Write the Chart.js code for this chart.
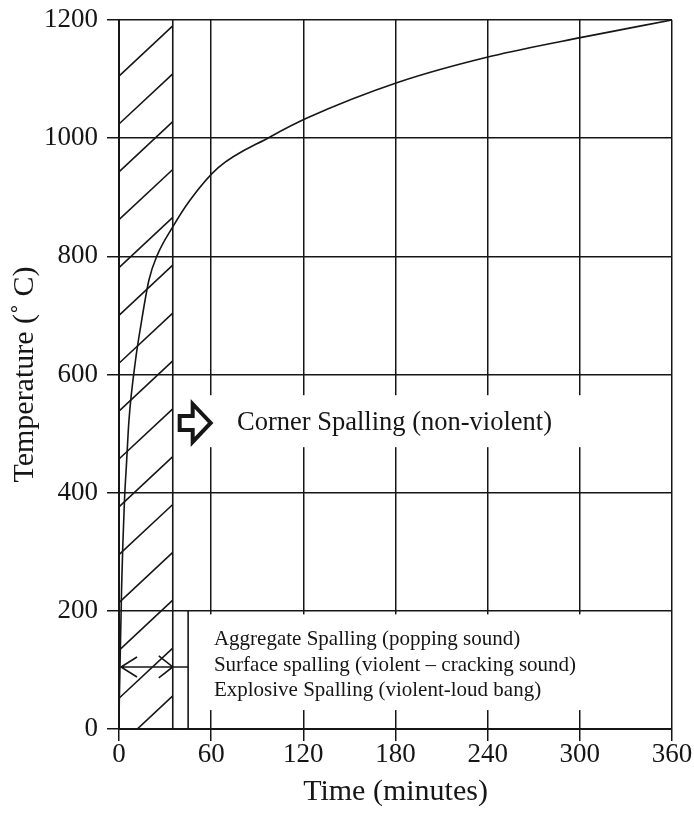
<!DOCTYPE html>
<html>
<head>
<meta charset="utf-8">
<script src="https://cdn.jsdelivr.net/npm/chart.js"></script>
<style>
  html, body { margin: 0; padding: 0; background: #fff; }
</style>
</head>
<body>
<canvas id="chart-area" width="694" height="823"></canvas>
<script>
// fire curve: time (min) vs furnace temperature (deg C)
var minutes = [0, 1.7, 3.5, 4.9, 6.5, 10.8, 14.1, 19.5, 24.9, 35, 46.2, 64.6, 98.3, 122.4, 182.3, 242.8, 302, 360];
var temps = [20, 240, 383, 450, 523, 625, 681, 760, 802, 850, 895, 950, 1002, 1034, 1095, 1139, 1171, 1200];

var timeTicks = [0, 60, 120, 180, 240, 300, 360];
var tempTicks = [0, 200, 400, 600, 800, 1000, 1200];

// spalling zones
var hatchEnd = 35;          // explosive zone ends here (min)
var spallBoxStart = 45;     // bottom note box starts (min)
var spallArrowTemp = 105;

var cornerLabel = 'Corner Spalling (non-violent)';
var spallingLabels = [
	'Aggregate Spalling (popping sound)',
	'Surface spalling (violent \u2013 cracking sound)',
	'Explosive Spalling (violent-loud bang)'
];

var serif = '"Liberation Serif", "Times New Roman", serif';
var ink = '#161616';

var notes = {
	id: 'notes',
	beforeDatasetsDraw: function (chart) {
		var ctx = chart.ctx, a = chart.chartArea;
		var x = chart.scales.x, y = chart.scales.y;
		var xe = x.getPixelForValue(hatchEnd);

		ctx.save();
		// white boxes hide the grid behind the notes
		ctx.fillStyle = '#fff';
		ctx.fillRect(x.getPixelForValue(36.5), y.getPixelForValue(565), x.getPixelForValue(311) - x.getPixelForValue(36.5), y.getPixelForValue(477) - y.getPixelForValue(565));
		ctx.fillRect(x.getPixelForValue(spallBoxStart), y.getPixelForValue(194), x.getPixelForValue(357) - x.getPixelForValue(spallBoxStart), y.getPixelForValue(32) - y.getPixelForValue(194));

		// hatching
		ctx.save();
		ctx.beginPath();
		ctx.rect(a.left, a.top, xe - a.left, a.bottom - a.top);
		ctx.clip();
		ctx.strokeStyle = ink;
		ctx.lineWidth = 1.6;
		for (var t0 = 1105; t0 > -120; t0 -= 81) {
			ctx.beginPath();
			ctx.moveTo(x.getPixelForValue(0), y.getPixelForValue(t0));
			ctx.lineTo(xe, y.getPixelForValue(t0 + 85));
			ctx.stroke();
		}
		ctx.restore();

		ctx.strokeStyle = ink;
		ctx.lineWidth = 1.6;
		ctx.beginPath();
		ctx.moveTo(xe, a.top);
		ctx.lineTo(xe, a.bottom);
		ctx.stroke();

		// left edge of the bottom note
		var xb = x.getPixelForValue(spallBoxStart);
		ctx.beginPath();
		ctx.moveTo(xb, y.getPixelForValue(200));
		ctx.lineTo(xb, a.bottom);
		ctx.stroke();

		// double arrow across the explosive zone
		var ya = y.getPixelForValue(spallArrowTemp);
		var x0 = x.getPixelForValue(0) + 2;
		ctx.beginPath();
		ctx.moveTo(x0, ya);
		ctx.lineTo(xb, ya);
		ctx.moveTo(x0 + 16, ya - 10);
		ctx.lineTo(x0, ya);
		ctx.lineTo(x0 + 16, ya + 10);
		ctx.moveTo(xe - 14, ya - 11);
		ctx.lineTo(xe, ya);
		ctx.lineTo(xe - 14, ya + 11);
		ctx.stroke();

		// hollow block arrow
		var ax = x.getPixelForValue(39.5), ay = y.getPixelForValue(518);
		ctx.beginPath();
		ctx.moveTo(ax, ay - 7);
		ctx.lineTo(ax + 13, ay - 7);
		ctx.lineTo(ax + 13, ay - 19);
		ctx.lineTo(ax + 31, ay);
		ctx.lineTo(ax + 13, ay + 19);
		ctx.lineTo(ax + 13, ay + 7);
		ctx.lineTo(ax, ay + 7);
		ctx.closePath();
		ctx.fillStyle = '#fff';
		ctx.fill();
		ctx.lineWidth = 4;
		ctx.lineJoin = 'miter';
		ctx.stroke();

		// labels
		ctx.fillStyle = ink;
		ctx.textBaseline = 'middle';
		ctx.textAlign = 'left';
		ctx.font = '26.5px ' + serif;
		ctx.fillText(cornerLabel, x.getPixelForValue(76.8), ay);

		ctx.font = '21px ' + serif;
		var rows = [152, 108, 65];
		spallingLabels.forEach(function (s, i) {
			ctx.fillText(s, x.getPixelForValue(61.8), y.getPixelForValue(rows[i]));
		});
		ctx.restore();
	}
};

var context = document.getElementById('chart-area').getContext('2d');

var points = minutes.map(function (m, i) { return { x: m, y: temps[i] }; });

var tickFont = { family: serif, size: 27 };
var plainNumber = function (v) { return String(v); };

new Chart(context, {
	type: 'scatter',
	data: {
		datasets: [{
			data: points,
			showLine: true,
			borderColor: ink,
			borderWidth: 1.6,
			pointRadius: 0,
			cubicInterpolationMode: 'monotone',
			fill: false
		}]
	},
	options: {
		responsive: false,
		animation: false,
		devicePixelRatio: 1,
		layout: { padding: { top: 20, right: 22, left: 0, bottom: 0 } },
		plugins: {
			legend: { display: false },
			tooltip: { enabled: false }
		},
		scales: {
			x: {
				type: 'linear',
				min: 0,
				max: 360,
				afterBuildTicks: function (s) { s.ticks = timeTicks.map(function (v) { return { value: v }; }); },
				afterFit: function (s) { s.height = 94; s.paddingLeft = 0; s.paddingRight = 0; },
				grid: { color: ink, lineWidth: 1.5, tickLength: 12 },
				border: { color: ink, width: 2 },
				ticks: { font: tickFont, color: ink, padding: -2, maxRotation: 0, callback: plainNumber },
				title: {
					display: true,
					text: 'Time (minutes)',
					font: { family: serif, size: 30 },
					color: ink,
					padding: { top: 0, bottom: 13 }
				}
			},
			y: {
				type: 'linear',
				min: 0,
				max: 1200,
				afterBuildTicks: function (s) { s.ticks = tempTicks.map(function (v) { return { value: v }; }); },
				afterFit: function (s) { s.width = 119; s.paddingTop = 0; s.paddingBottom = 0; },
				grid: { color: ink, lineWidth: 1.5, tickLength: 12 },
				border: { color: ink, width: 2 },
				ticks: { font: tickFont, color: ink, padding: 9, callback: plainNumber },
				title: {
					display: true,
					text: 'Temperature (\u02DA C)',
					font: { family: serif, size: 30 },
					color: ink,
					padding: { top: 7, bottom: 0 }
				}
			}
		}
	},
	plugins: [notes]
});
</script>
</body>
</html>
